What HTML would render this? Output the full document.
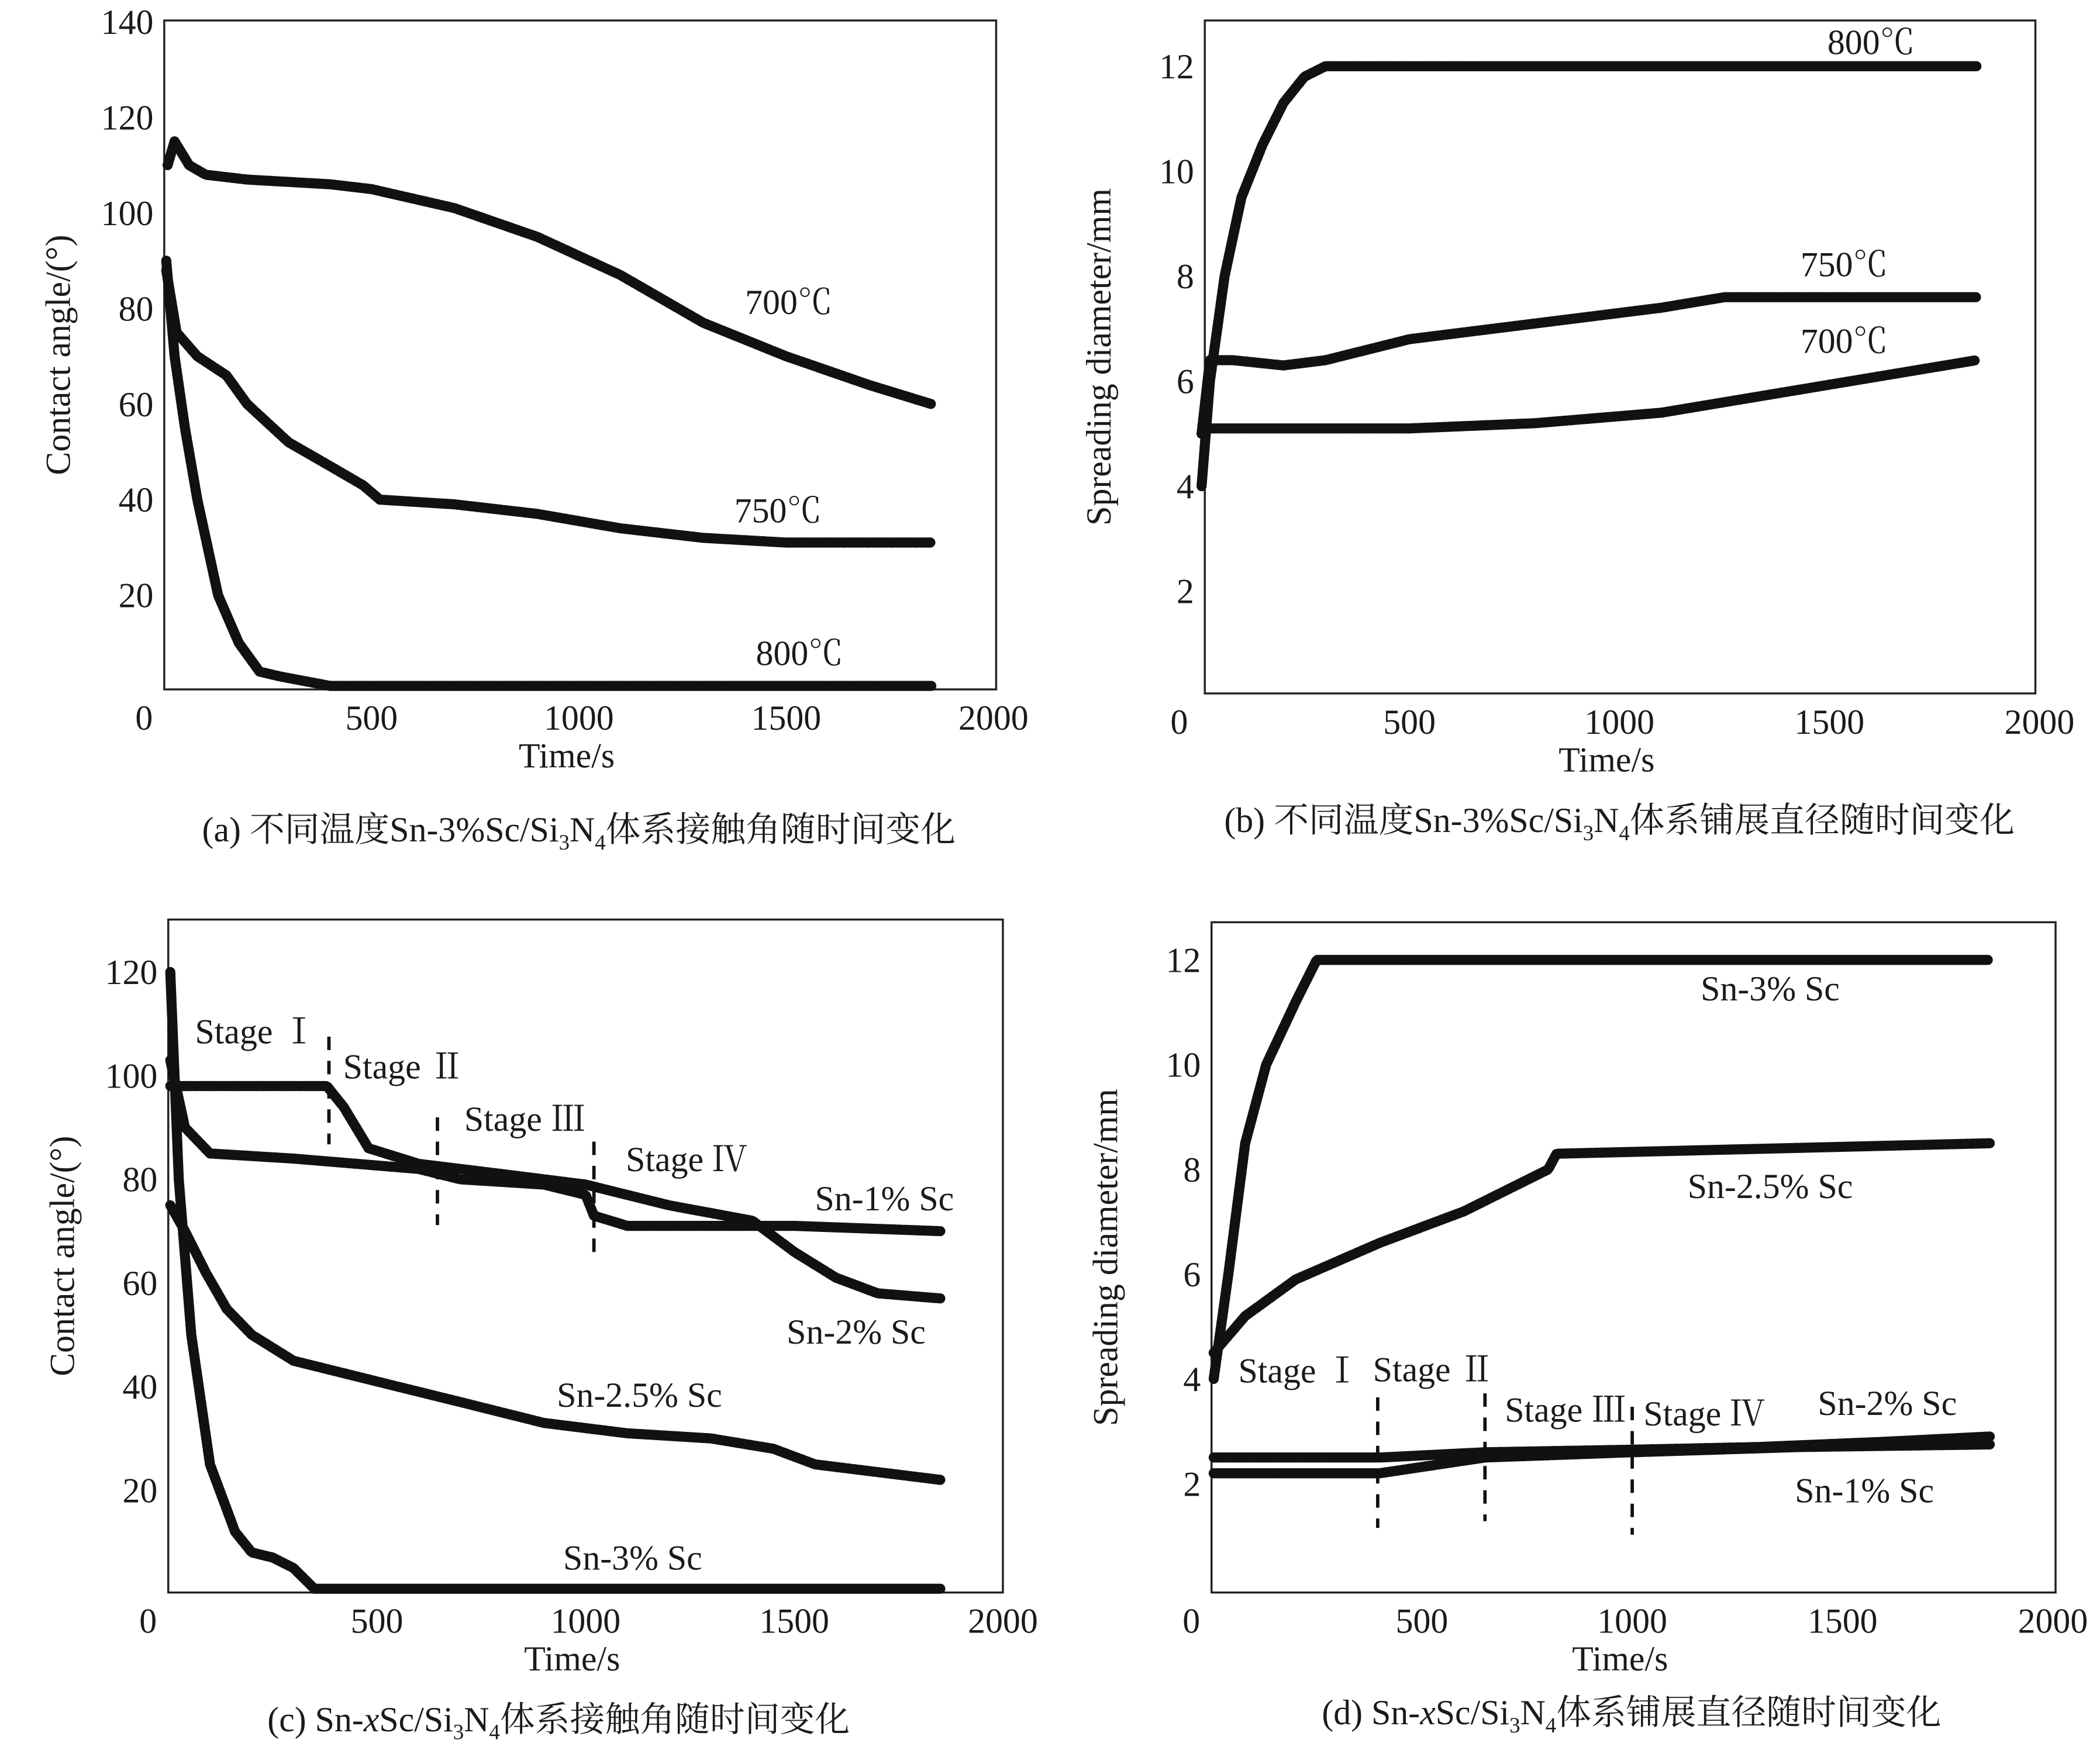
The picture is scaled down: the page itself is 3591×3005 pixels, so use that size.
<!DOCTYPE html>
<html><head><meta charset="utf-8"><style>
html,body{margin:0;padding:0;background:#fff;}
svg{display:block;}
text{font-family:"Liberation Serif","Noto Serif CJK SC",serif;fill:#1a1a1a;}
</style></head><body>
<svg id="fig" width="3591" height="3005" viewBox="0 0 1560 1305" xmlns="http://www.w3.org/2000/svg"></svg>
<script>
// ---- data ----
const aT700=[8,25,60,100,200,400,500,700,900,1100,1300,1500,1700,1850];
const aV700=[110,115,110,108,107,106,105,101,95,87,77,70,64,60];
const aT750=[5,30,80,150,200,300,400,480,520,700,900,1100,1300,1500,1850];
const aV750=[88,75,70,66,60,52,47,43,40,39,37,34,32,31,31];
const aT800=[5,25,50,80,130,180,230,280,400,1850];
const aV800=[90,70,55,40,20,10,4,3,1,1];
const bT800=[5,25,60,100,150,200,250,300,1850];
const bV800=[4,6,8,9.5,10.5,11.3,11.8,12,12];
const bT750=[5,25,80,200,300,400,500,700,900,1100,1250,1850];
const bV750=[5,6.4,6.4,6.3,6.4,6.6,6.8,7,7.2,7.4,7.6,7.6];
const bT700=[5,25,500,800,1100,1400,1850];
const bV700=[5,5.1,5.1,5.2,5.4,5.8,6.4];
const cT1=[5,40,100,300,600,700,900,1000,1020,1100,1300,1500,1850];
const cV1=[103,90,85,84,82,80,79,77,73,71,71,71,70];
const cT2=[5,200,380,420,480,600,800,1000,1200,1400,1500,1600,1700,1850];
const cV2=[98,98,98,94,86,83,81,79,75,72,66,61,58,57];
const cT25=[5,40,90,140,200,300,500,700,900,1100,1300,1450,1550,1850];
const cV25=[75,70,62,55,50,45,41,37,33,31,30,28,25,22];
const cT3=[5,25,55,100,160,200,250,300,350,1850];
const cV3=[120,80,50,25,12,8,7,5,1,1];
const dT3=[5,40,80,130,200,250,1850];
const dV3=[4,6,8.5,10,11.2,12,12];
const dT25=[5,80,200,400,600,800,820,1850];
const dV25=[4.5,5.2,5.9,6.6,7.2,8,8.3,8.5];
const dT2=[5,400,650,1000,1300,1600,1850];
const dV2=[2.5,2.5,2.6,2.65,2.7,2.8,2.9];
const dT1=[5,400,650,1000,1400,1850];
const dV1=[2.2,2.2,2.5,2.6,2.7,2.75];
const xTicks=[0,500,1000,1500,2000];
const aYTicks=[20,40,60,80,100,120,140];
const bYTicks=[2,4,6,8,10,12];
const cYTicks=[20,40,60,80,100,120];
const dYTicks=[2,4,6,8,10,12];

const NS='http://www.w3.org/2000/svg';
const svg=document.getElementById('fig');
function el(tag,attrs,parent){const e=document.createElementNS(NS,tag);for(const k in attrs)e.setAttribute(k,attrs[k]);(parent||svg).appendChild(e);return e;}
function txt(x,y,s,size,name,anchor,parent){const t=el('text',{x:x,y:y,'font-size':size,'text-anchor':anchor||'middle'},parent);t.innerHTML=s;


return t;}

function panel(o){
  const g=el('g',{});
  
  
  const sx=v=>o.x0+(v/2000)*(o.x1-o.x0);
  const sy=v=>o.y0-(v-o.ymin)/(o.ymax-o.ymin)*(o.y0-o.y1);
  const box=el('rect',{x:o.bx0,y:o.by0,width:o.bx1-o.bx0,height:o.by1-o.by0,fill:'none',stroke:'#222','stroke-width':1.5},g);
  
  
  xTicks.forEach(v=>{txt(sx(v)+(v===0?-15:0),o.by1+30,v,26,'x-tick-label','middle',g);});
  o.yt.forEach(v=>{txt(o.bx0-8,sy(v)+9,v,26,'y-tick-label','end',g);});
  txt((o.bx0+o.bx1)/2-10,o.by1+58,'Time/s',26,'x-axis-title','middle',g);
  const yt=txt(0,0,o.ytitle,26,'y-axis-title','middle',g);
  yt.setAttribute('transform',`translate(${o.bx0-70},${(o.by0+o.by1)/2}) rotate(-90)`);
  o.series.forEach(s=>{
    const pts=s.t.map((t,i)=>sx(t).toFixed(1)+','+sy(s.v[i]).toFixed(1)).join(' ');
    const p=el('polyline',{points:pts,fill:'none',stroke:'#111','stroke-width':7.5,'stroke-linejoin':'round','stroke-linecap':'round','stroke-dasharray':'3 1.5'},g);
    
    
  });
  (o.dash||[]).forEach(d=>{
    const l=el('line',{x1:sx(d[0]),x2:sx(d[0]),y1:d[1],y2:d[2],stroke:'#111','stroke-width':2.5,'stroke-dasharray':'10 8'},g);
    
    
  });
  (o.labels||[]).forEach(l=>txt(l[0],l[1],l[2],26,'series-label','middle',g));
  txt(o.capx,o.capy,o.cap,26,'caption','middle',g);
}
const sub3='<tspan font-size="16" dy="6">3</tspan><tspan dy="-6">N</tspan><tspan font-size="16" dy="6">4</tspan><tspan dy="-6">';
panel({name:'panel-a',bx0:122,bx1:740,by0:15,by1:512,x0:122,x1:738,y0:513,y1:16,ymin:0,ymax:140,yt:aYTicks,
 ytitle:'Contact angle/(°)',
 series:[{name:'line-700c',t:aT700,v:aV700},{name:'line-750c',t:aT750,v:aV750},{name:'line-800c',t:aT800,v:aV800}],
 labels:[[586,233,'700℃'],[578,388,'750℃'],[594,494,'800℃']],
 cap:'(a) 不同温度Sn-3%Sc/Si'+sub3+'体系接触角随时间变化</tspan>',capx:430,capy:625});
panel({name:'panel-b',bx0:895,bx1:1512,by0:15,by1:515,x0:891,x1:1515,y0:517,y1:49,ymin:0,ymax:12,yt:bYTicks,
 ytitle:'Spreading diameter/mm',
 series:[{name:'line-800c',t:bT800,v:bV800},{name:'line-750c',t:bT750,v:bV750},{name:'line-700c',t:bT700,v:bV700}],
 labels:[[1390,40,'800℃'],[1370,205,'750℃'],[1370,262,'700℃']],
 cap:'(b) 不同温度Sn-3%Sc/Si'+sub3+'体系铺展直径随时间变化</tspan>',capx:1203,capy:618});
panel({name:'panel-c',bx0:125,bx1:745,by0:683,by1:1183,x0:125,x1:745,y0:1184,y1:722,ymin:0,ymax:120,yt:cYTicks,
 ytitle:'Contact angle/(°)',
 series:[{name:'line-sn-1sc',t:cT1,v:cV1},{name:'line-sn-2sc',t:cT2,v:cV2},{name:'line-sn-25sc',t:cT25,v:cV25},{name:'line-sn-3sc',t:cT3,v:cV3}],
 dash:[[385,770,850],[645,830,910],[1020,848,930]],
 labels:[[190,775,'Stage Ⅰ'],[300,801,'Stage Ⅱ'],[390,840,'Stage Ⅲ'],[510,870,'Stage Ⅳ'],[657,899,'Sn-1% Sc'],[636,998,'Sn-2% Sc'],[475,1045,'Sn-2.5% Sc'],[470,1166,'Sn-3% Sc']],
 cap:'(c) Sn-<tspan font-style="italic">x</tspan>Sc/Si'+sub3+'体系接触角随时间变化</tspan>',capx:415,capy:1286});
panel({name:'panel-d',bx0:900,bx1:1527,by0:685,by1:1183,x0:900,x1:1525,y0:1180,y1:713,ymin:0,ymax:12,yt:dYTicks,
 ytitle:'Spreading diameter/mm',
 series:[{name:'line-sn-3sc',t:dT3,v:dV3},{name:'line-sn-25sc',t:dT25,v:dV25},{name:'line-sn-2sc',t:dT2,v:dV2},{name:'line-sn-1sc',t:dT1,v:dV1}],
 dash:[[395,1038,1135],[650,1035,1130],[1000,1045,1140]],
 labels:[[965,1027,'Stage Ⅰ'],[1065,1026,'Stage Ⅱ'],[1163,1056,'Stage Ⅲ'],[1266,1059,'Stage Ⅳ'],[1315,743,'Sn-3% Sc'],[1315,890,'Sn-2.5% Sc'],[1402,1051,'Sn-2% Sc'],[1385,1116,'Sn-1% Sc']],
 cap:'(d) Sn-<tspan font-style="italic">x</tspan>Sc/Si'+sub3+'体系铺展直径随时间变化</tspan>',capx:1212,capy:1281});
</script>
</body></html>
